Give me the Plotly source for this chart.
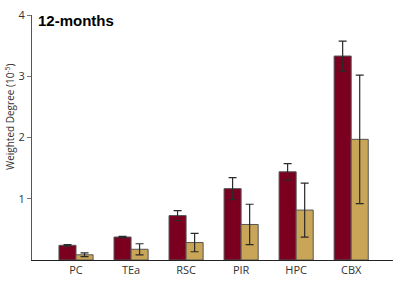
import plotly.graph_objects as go

categories = ["PC", "TEa", "RSC", "PIR", "HPC", "CBX"]
series_a = [0.24, 0.375, 0.725, 1.165, 1.44, 3.33]
series_a_err = [0.012, 0.01, 0.08, 0.18, 0.135, 0.245]
series_b = [0.085, 0.175, 0.285, 0.58, 0.815, 1.97]
series_b_err = [0.03, 0.09, 0.15, 0.33, 0.44, 1.05]
y_ticks = [1, 2, 3, 4]

dark = "#7b0020"
gold = "#c9a557"
err_color = "#2a2a2a"

fig = go.Figure()
fig.add_trace(go.Bar(
    x=categories, y=series_a,
    marker=dict(color=dark, line=dict(color="#555555", width=1)),
    error_y=dict(type="data", array=series_a_err, visible=True,
                 color=err_color, thickness=1.2, width=4),
    showlegend=False,
))
fig.add_trace(go.Bar(
    x=categories, y=series_b,
    marker=dict(color=gold, line=dict(color="#555555", width=1)),
    error_y=dict(type="data", array=series_b_err, visible=True,
                 color=err_color, thickness=1.2, width=4),
    showlegend=False,
))

plot_w = 400 - 32 - 7
plot_h = 284 - 12 - 20

fig.update_layout(
    width=400, height=284,
    margin=dict(l=32, r=7, t=12, b=20),
    paper_bgcolor="white", plot_bgcolor="white",
    barmode="group", bargap=0.38, bargroupgap=0,
    font=dict(family="Open Sans, Lato, sans-serif", size=10, color="#333333"),
    xaxis=dict(
        range=[-0.8, 5.76], showline=True, linecolor="#222222", linewidth=1.2,
        ticks="", tickfont=dict(size=11, color="#333333"), showgrid=False,
        zeroline=False,
    ),
    yaxis=dict(
        range=[0, 4], tickvals=y_ticks, showline=True, linecolor="#555555",
        linewidth=1.2, ticks="outside", ticklen=4, tickcolor="#777777",
        tickfont=dict(size=11, color="#333333"), showgrid=False, zeroline=False,
    ),
    annotations=[
        dict(text="<b>12-months</b>", x=(36 - 32) / plot_w, y=(264 - 7) / plot_h,
             xref="paper", yref="paper", xanchor="left", yanchor="top",
             showarrow=False,
             font=dict(family="Liberation Sans, Arial", size=15, color="black")),
        dict(text="Weighted Degree (10<sup>-5</sup>)", textangle=-90,
             xref="paper", yref="paper", x=(10 - 32) / plot_w, y=(264 - 117) / plot_h,
             xanchor="center", yanchor="middle", showarrow=False,
             font=dict(size=10, color="#333333")),
    ],
)

fig.write_html("out.html", config={"displayModeBar": False},
               post_script="document.body.style.margin='0';")
